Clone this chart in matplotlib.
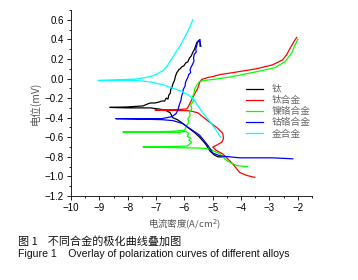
import matplotlib
matplotlib.use('Agg')
import matplotlib.pyplot as plt
from matplotlib.ticker import MultipleLocator

plt.rcParams['font.family'] = ['Liberation Sans', 'Noto Sans CJK SC', 'DejaVu Sans']
cjk = ['Noto Sans CJK SC', 'DejaVu Sans']

# 钛
ti_x = [-5.42, -5.46, -5.50, -5.56, -5.62, -5.66, -5.70, -5.76, -5.82, -5.88, -5.95, -6.02, -6.09, -6.15, -6.20,
        -6.24, -6.27, -6.32, -6.35, -6.40, -6.44, -6.48, -6.50, -6.55, -6.58, -6.64, -6.70, -6.80, -6.90, -7.04,
        -7.20, -7.30, -7.46, -8.00, -8.63,
        -8.00, -7.20, -6.70, -6.50, -6.41, -6.25, -6.10, -5.88, -5.65, -5.46, -5.25, -5.10, -4.95, -4.82, -4.60]
ti_y = [0.33, 0.38, 0.38, 0.37, 0.32, 0.29, 0.27, 0.23, 0.21, 0.17, 0.16, 0.13, 0.12, 0.10, 0.09,
        0.07, 0.06, 0.02, -0.02, -0.05, -0.09, -0.11, -0.15, -0.17, -0.21, -0.20, -0.23, -0.23, -0.24, -0.25,
        -0.25, -0.26, -0.28, -0.29, -0.295,
        -0.30, -0.30, -0.32, -0.35, -0.40, -0.42, -0.45, -0.50, -0.55, -0.60, -0.67, -0.74, -0.78, -0.80, -0.80]

# 钛合金
tia_x = [-2.04, -2.15, -2.29, -2.40, -2.54, -2.89, -3.45, -4.30, -4.75, -5.00, -5.18, -5.39, -5.46, -5.53, -5.70,
         -5.85, -5.92, -6.30, -7.04,
         -6.30, -5.80, -5.53, -5.18, -4.82, -4.65, -4.62, -4.68, -4.86, -5.00, -4.90, -4.65, -4.30, -4.05, -3.80, -3.52]
tia_y = [0.42, 0.37, 0.30, 0.24, 0.19, 0.14, 0.10, 0.06, 0.04, 0.02, 0.01, -0.01, -0.04, -0.10, -0.19,
         -0.28, -0.31, -0.32, -0.32,
         -0.325, -0.33, -0.35, -0.43, -0.51, -0.56, -0.61, -0.65, -0.68, -0.70, -0.73, -0.77, -0.87, -0.96, -0.99, -1.01]

# 镍铬合金
nicr_x = [-2.00, -2.10, -2.22, -2.35, -2.46, -2.82, -3.45, -4.30, -5.00, -5.30, -5.46, -5.55, -5.63, -5.66, -5.72,
          -5.68, -5.78, -5.74, -5.82, -5.80, -5.88, -5.85, -5.92, -6.00, -6.50, -7.30, -8.17,
          -7.30, -6.20, -5.95, -5.85, -5.90, -5.78, -5.84, -5.75, -5.82, -5.90, -6.50, -7.46,
          -6.50, -5.50, -5.10, -4.75, -4.50, -4.15, -3.77]
nicr_y = [0.40, 0.34, 0.26, 0.21, 0.17, 0.11, 0.07, 0.02, -0.01, -0.02, -0.03, -0.06, -0.10, -0.15, -0.19,
          -0.23, -0.27, -0.31, -0.34, -0.38, -0.41, -0.45, -0.48, -0.53, -0.54, -0.545, -0.545,
          -0.55, -0.55, -0.54, -0.56, -0.59, -0.61, -0.63, -0.65, -0.67, -0.69, -0.695, -0.70,
          -0.705, -0.71, -0.72, -0.77, -0.84, -0.89, -0.90]

# 钴铬合金
cocr_x = [-5.45, -5.45, -5.53, -5.56, -5.60, -5.58, -5.65, -5.68, -5.66, -5.72, -5.76, -5.80, -5.78, -5.85, -5.88,
          -5.92, -5.96, -5.98, -6.04, -6.06, -6.10, -6.12, -6.18, -6.23, -6.30, -6.45, -6.80, -7.50, -8.42,
          -7.50, -6.80, -6.40, -6.06, -5.81, -5.46, -5.18, -5.00, -4.75, -4.05, -2.90, -2.18]
cocr_y = [0.33, 0.40, 0.38, 0.34, 0.30, 0.27, 0.25, 0.21, 0.18, 0.14, 0.12, 0.09, 0.06, 0.04, 0.01,
          -0.01, -0.04, -0.08, -0.11, -0.15, -0.18, -0.22, -0.27, -0.32, -0.36, -0.39, -0.41, -0.41, -0.41,
          -0.415, -0.42, -0.43, -0.46, -0.51, -0.58, -0.68, -0.76, -0.79, -0.81, -0.81, -0.82]

# 金合金
au_x = [-5.70, -5.90, -6.16, -6.30, -6.45, -6.60, -6.76, -7.00, -7.20, -7.70, -8.50, -9.05,
        -8.50, -7.70, -7.20, -6.80, -6.40, -6.10, -5.85, -5.65, -5.55, -5.35, -5.10, -4.90, -4.72]
au_y = [0.60, 0.47, 0.33, 0.27, 0.20, 0.13, 0.08, 0.04, 0.02, -0.005, -0.015, -0.02,
        -0.02, -0.02, -0.035, -0.06, -0.10, -0.13, -0.17, -0.22, -0.27, -0.35, -0.44, -0.52, -0.60]

fig = plt.figure(figsize=(3.58, 2.80), dpi=100)
ax = fig.add_axes([71 / 358, 84 / 280, 241 / 358, 186 / 280])

lw = 0.9
ax.plot(ti_x, ti_y, color='black', lw=lw, label='钛')
ax.plot(tia_x, tia_y, color='#ff0000', lw=lw, label='钛合金')
ax.plot(nicr_x, nicr_y, color='#00ff00', lw=lw, label='镍铬合金')
ax.plot(cocr_x, cocr_y, color='#0000ff', lw=lw, label='钴铬合金')
ax.plot(au_x, au_y, color='#00ffff', lw=lw, label='金合金')

ax.set_xlim(-10, -1.5)
ax.set_ylim(-1.2, 0.7)
ax.xaxis.set_major_locator(MultipleLocator(1))
ax.xaxis.set_minor_locator(MultipleLocator(0.5))
ax.yaxis.set_major_locator(MultipleLocator(0.2))
ax.yaxis.set_minor_locator(MultipleLocator(0.1))
ax.set_yticks([0.6, 0.4, 0.2, 0.0, -0.2, -0.4, -0.6, -0.8, -1.0, -1.2])
ax.set_xticks(range(-10, -1))
ax.tick_params(which='major', direction='out', length=3, width=0.6, labelsize=7, pad=2)
ax.tick_params(which='minor', direction='out', length=1.5, width=0.6)
for s in ['top', 'right']:
    ax.spines[s].set_visible(False)
for s in ['left', 'bottom']:
    ax.spines[s].set_linewidth(0.6)

ax.set_ylabel('电位(mV)', family=cjk, fontsize=7.5, color='#555555', labelpad=3)
ax.set_xlabel('电流密度(A/cm$^2$)', family=cjk, fontsize=6.8, color='#555555', labelpad=3)
ax.xaxis.set_label_coords(0.47, -0.12)

leg = ax.legend(loc='upper left', bbox_to_anchor=(246 / 358, 1 - 84 / 280), bbox_transform=fig.transFigure,
                frameon=False, prop={'family': cjk, 'size': 7}, handlelength=1.7, handletextpad=0.9,
                labelspacing=0.12, borderpad=0, borderaxespad=0)
for t in leg.get_texts():
    t.set_color('#666666')

fig.text(18 / 358, 1 - 241 / 280, '图 1    不同合金的极化曲线叠加图', family=cjk, fontsize=8,
         va='center', ha='left', color='#111111')
fig.text(18 / 358, 1 - 254 / 280, 'Figure 1    Overlay of polarization curves of different alloys',
         fontsize=7.6, va='center', ha='left', color='#111111')

fig.savefig('out.png', dpi=100)
